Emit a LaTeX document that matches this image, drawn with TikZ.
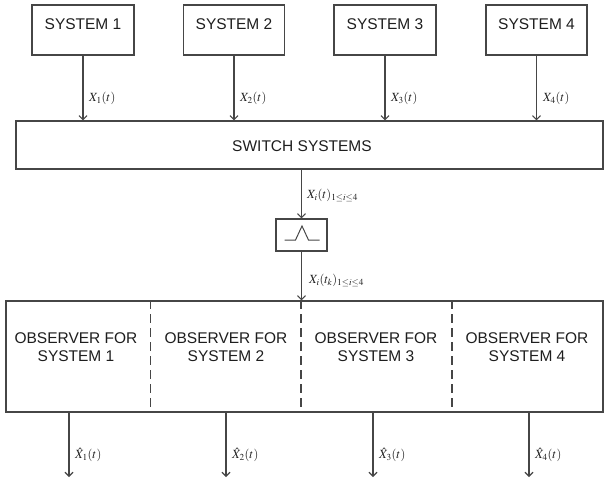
\documentclass[tikz,border=0pt]{standalone}
\usepackage{mathptmx}
\usepackage{fontspec}
\newfontfamily\sysfont{Liberation Sans}
\usetikzlibrary{arrows.meta}
\definecolor{linec}{RGB}{70,70,70}
\definecolor{textc}{RGB}{30,30,30}
\tikzset{
  box/.style={draw=linec, line width=1.3pt, inner sep=0pt},
  arr/.style={draw=linec, line width=1.1pt, -{Straight Barb[length=4pt,width=8pt]}},
  divline/.style={draw=linec, line width=1.1pt, dash pattern=on 9pt off 5pt},
  lbl/.style={anchor=west, inner sep=0pt, text=textc, font=\fontsize{12.5}{14}\selectfont},
  txt/.style={font=\sysfont\fontsize{15.5}{18.5}\selectfont, align=center, inner sep=0pt, text=textc}
}
\begin{document}
\begin{tikzpicture}[x=1pt,y=-1pt]
\useasboundingbox (0,0) rectangle (605,485);
% system boxes
\node[box, minimum width=102pt, minimum height=50pt] (s1) at (83,30) {};
\node[box, minimum width=101pt, minimum height=50pt] (s2) at (234,30) {};
\node[box, minimum width=102pt, minimum height=50pt] (s3) at (385,30) {};
\node[box, minimum width=101pt, minimum height=50pt] (s4) at (536.5,30) {};
\node[txt] (t1) at (83,24) {SYSTEM 1};
\node[txt] (t2) at (234,24) {SYSTEM 2};
\node[txt] (t3) at (385,24) {SYSTEM 3};
\node[txt] (t4) at (536.5,24) {SYSTEM 4};
% switch
\node[box, minimum width=587pt, minimum height=48pt] (sw) at (309.5,145) {};
\node[txt] (swt) at (302,146) {SWITCH SYSTEMS};
\foreach \i in {1,2,3,4}{
  \draw[arr] (s\i.south) -- (s\i.south |- sw.north);
}
\node[lbl] (l1) at (89,98) {$X_1(t)$};
\node[lbl] (l2) at (240,98) {$X_2(t)$};
\node[lbl] (l3) at (391,98) {$X_3(t)$};
\node[lbl] (l4) at (543,98) {$X_4(t)$};
% sampler
\node[box, minimum width=51pt, minimum height=32pt] (smp) at (301.5,235) {};
\draw[draw=linec, line width=1pt] ([shift={(-17,5)}]smp.center) -- ++(11,0) -- ++(6.5,-14) -- ++(6.5,14) -- ++(11,0);
\draw[arr] (smp.north |- sw.south) -- (smp.north);
\node[lbl] (li) at (307,195) {$X_i(t)_{1\le i\le 4}$};
% observer
\node[box, minimum width=597pt, minimum height=111pt] (obs) at (304.5,356.5) {};
\draw[arr] (smp.south) -- (smp.south |- obs.north);
\node[lbl] (lk) at (309,280) {$X_i(t_k)_{1\le i\le 4}$};
\coordinate (d1) at (150.7,0);
\coordinate (d2) at (301,0);
\coordinate (d3) at (452,0);
\foreach \d in {d1,d2,d3}{
  \draw[divline] (\d |- obs.north) -- (\d |- obs.south);
}
\node[txt] (o1) at (76,347) {OBSERVER FOR\\SYSTEM 1};
\node[txt] (o2) at (226,347) {OBSERVER FOR\\SYSTEM 2};
\node[txt] (o3) at (376,347) {OBSERVER FOR\\SYSTEM 3};
\node[txt] (o4) at (527,347) {OBSERVER FOR\\SYSTEM 4};
% outputs
\coordinate (e1) at (69,477);
\coordinate (e2) at (226,477);
\coordinate (e3) at (373,477);
\coordinate (e4) at (529,477);
\foreach \i in {1,2,3,4}{
  \draw[arr] (e\i |- obs.south) -- (e\i);
}
\node[lbl] (h1) at (75,455) {$\hat{X}_1(t)$};
\node[lbl] (h2) at (232,455) {$\hat{X}_2(t)$};
\node[lbl] (h3) at (379,455) {$\hat{X}_3(t)$};
\node[lbl] (h4) at (535,455) {$\hat{X}_4(t)$};
\end{tikzpicture}
\end{document}
